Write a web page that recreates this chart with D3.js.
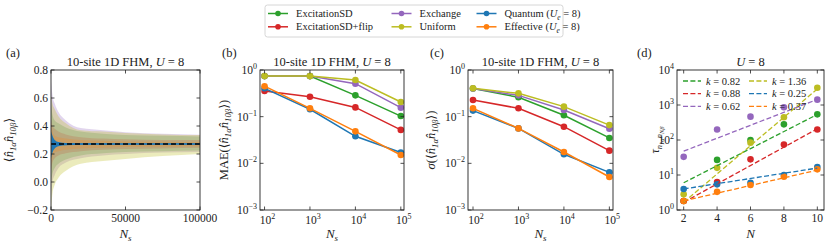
<!DOCTYPE html>
<html><head><meta charset="utf-8">
<script src="https://cdn.jsdelivr.net/npm/d3@7"></script>
<style>
body{margin:0;background:#fff;}
text{font-family:"Liberation Serif","DejaVu Serif",serif;fill:#222;}
</style></head>
<body><svg id="c" width="830" height="245"></svg>
<script>
// ---------- DATA ----------
const methods = ["ExcitationSD","ExcitationSD+flip","Exchange","Uniform","Quantum","Effective"];
const colors = ["#2ca02c","#d62728","#9467bd","#bcbd22","#1f77b4","#ff7f0e"];
// panel (a): band samples
const bandNs = [100, 1000, 2500, 5000, 10000, 20000, 35000, 50000, 75000, 100000];
const bandUpperSD    = [0.55,0.48,0.44,0.42,0.39,0.36,0.345,0.335,0.33,0.325];
const bandLowerSD    = [0.00,0.06,0.10,0.13,0.16,0.19,0.205,0.215,0.22,0.225];
const bandUpperFlip  = [0.45,0.40,0.38,0.36,0.34,0.32,0.31,0.305,0.30,0.30];
const bandLowerFlip  = [0.08,0.14,0.17,0.19,0.205,0.22,0.23,0.235,0.24,0.245];
const bandUpperExch  = [0.72,0.62,0.56,0.50,0.44,0.385,0.37,0.355,0.345,0.338];
const bandLowerExch  = [-0.10,0.00,0.05,0.10,0.14,0.17,0.19,0.20,0.21,0.215];
const bandUpperUnif  = [0.62,0.56,0.52,0.47,0.42,0.37,0.36,0.35,0.34,0.335];
const bandLowerUnif  = [-0.20,-0.08,-0.02,0.03,0.08,0.13,0.15,0.165,0.185,0.20];
const bandUpperQuant = [0.36,0.33,0.30,0.285,0.278,0.276,0.275,0.275,0.275,0.275];
const bandLowerQuant = [0.17,0.21,0.24,0.255,0.262,0.266,0.267,0.267,0.267,0.267];
const bandUpperEff   = [0.42,0.36,0.33,0.32,0.31,0.30,0.295,0.29,0.288,0.285];
const bandLowerEff   = [0.12,0.18,0.21,0.22,0.23,0.24,0.245,0.25,0.252,0.255];
const exactValue = 0.271;
// panel (b) and (c)
const Ns = [100, 1000, 10000, 100000];
const maeSD    = [0.74, 0.74, 0.286, 0.103];
const maeFlip  = [0.355, 0.268, 0.158, 0.052];
const maeExch  = [0.74, 0.74, 0.51, 0.156];
const maeUnif  = [0.74, 0.74, 0.61, 0.206];
const maeQuant = [0.405, 0.144, 0.038, 0.017];
const maeEff   = [0.45, 0.151, 0.0485, 0.0151];
const sigSD    = [0.40, 0.26, 0.107, 0.035];
const sigFlip  = [0.228, 0.151, 0.061, 0.0187];
const sigExch  = [0.40, 0.286, 0.139, 0.055];
const sigUnif  = [0.405, 0.316, 0.164, 0.066];
const sigQuant = [0.135, 0.056, 0.0156, 0.0064];
const sigEff   = [0.151, 0.056, 0.0175, 0.0051];
// panel (d)
const sitesN = [2, 4, 6, 8, 10];
const tauSD    = [1.8, 27, 100, 280, 540];
const tauFlip  = [1.8, 6.3, 28, 74, 200];
const tauExch  = [33, 200, 465, 860, 1420];
const tauUnif  = [2.8, 16, 84, 445, 3100];
const tauQuant = [4.0, 5.4, 6.0, 10, 17];
const tauEff   = [1.8, 3.3, 5.2, 8.9, 14.5];
const fitStart = [6.0, 1.66, 48, 1.66, 4.0, 1.82];   // fit value at N=2
const fitEnd   = [537, 209, 1445, 2884, 15.8, 13.8]; // fit value at N=10
const kLabels  = ["0.82","0.88","0.62","1.36","0.25","0.37"];
const aYTicks = [-0.2,0.0,0.2,0.4,0.6,0.8];
const aXTicks = [0,50000,100000];
const logXTicks = [2,3,4,5];
const logYTicksBC = [-3,-2,-1,0];
const dXTicks = [2,4,6,8,10];
const dYTicks = [0,1,2,3,4];

// ---------- DRAW ----------
const svg = d3.select("#c");
const TOP=70, BOT=210;
const tickLen=3.5;

function frame(g, x0, x1){
  g.append("rect").attr("x",x0).attr("y",TOP).attr("width",x1-x0).attr("height",BOT-TOP)
   .attr("fill","none").attr("stroke","#222").attr("stroke-width",0.9);
}
function xticks(g, xs, vals){
  vals.forEach(v=>{const x=xs(v);
    g.append("line").attr("x1",x).attr("x2",x).attr("y1",BOT).attr("y2",BOT-tickLen).attr("stroke","#222").attr("stroke-width",0.8);
    g.append("line").attr("x1",x).attr("x2",x).attr("y1",TOP).attr("y2",TOP+tickLen).attr("stroke","#222").attr("stroke-width",0.8);});
}
function yticks(g, ys, vals, x0, x1){
  vals.forEach(v=>{const y=ys(v);
    g.append("line").attr("x1",x0).attr("x2",x0+tickLen).attr("y1",y).attr("y2",y).attr("stroke","#222").attr("stroke-width",0.8);
    g.append("line").attr("x1",x1).attr("x2",x1-tickLen).attr("y1",y).attr("y2",y).attr("stroke","#222").attr("stroke-width",0.8);});
}
function powLabel(g, x, y, exp, anchor){
  const t=g.append("text").attr("x",x).attr("y",y).attr("text-anchor",anchor).attr("font-size",11.5);
  t.append("tspan").text("10");
  t.append("tspan").attr("dy",-5).attr("font-size",8).text(exp<0?("\u2212"+(-exp)):exp);
  return t;
}
function title(g, cx, pre){
  const t=g.append("text").attr("x",cx).attr("y",66).attr("text-anchor","middle").attr("font-size",12.5);
  if(pre) t.append("tspan").text(pre);
  t.append("tspan").attr("font-style","italic").text("U");
  t.append("tspan").text(" = 8");
}
function panelLabel(g,x,s){ g.append("text").attr("x",x).attr("y",57).attr("font-size",12.5).text(s); }
function xlabel(g,cx,sym,sub){
  const t=g.append("text").attr("x",cx).attr("y",238).attr("text-anchor","middle").attr("font-size",13).attr("font-style","italic");
  t.append("tspan").text(sym);
  if(sub) t.append("tspan").attr("dy",3).attr("font-size",9).text(sub);
}
function nn(t, fs){
  t.append("tspan").text("\u27E8");
  t.append("tspan").attr("font-style","italic").text("n\u0302");
  t.append("tspan").attr("dy",3).attr("font-size",fs*0.7).attr("font-style","italic").text("1\u03B1");
  t.append("tspan").attr("dy",-3).attr("font-style","italic").text("n\u0302");
  t.append("tspan").attr("dy",3).attr("font-size",fs*0.7).attr("font-style","italic").text("10\u03B2");
  t.append("tspan").attr("dy",-3).text("\u27E9");
}

// ----- Panel (a)
(function(){
  const g=svg.append("g");
  const x0=51,x1=200;
  const xs=d3.scaleLinear().domain([0,100000]).range([x0,x1]);
  const ys=d3.scaleLinear().domain([-0.2,0.8]).range([BOT,TOP]);
  const bands=[[bandUpperSD,bandLowerSD,0,0.28],[bandUpperFlip,bandLowerFlip,1,0.26],
    [bandUpperExch,bandLowerExch,2,0.28],[bandUpperUnif,bandLowerUnif,3,0.3],
    [bandUpperEff,bandLowerEff,5,0.22],[bandUpperQuant,bandLowerQuant,4,1.0]];
  const area=d3.area().x((d,i)=>xs(bandNs[i])).y0(d=>ys(d[1])).y1(d=>ys(d[0])).curve(d3.curveMonotoneX);
  g.append("clipPath").attr("id","clipA").append("rect").attr("x",x0).attr("y",TOP).attr("width",x1-x0).attr("height",BOT-TOP);
  const pg=g.append("g").attr("clip-path","url(#clipA)");
  bands.forEach(b=>{
    const d=bandNs.map((n,i)=>[b[0][i],b[1][i]]);
    pg.append("path").attr("d",area(d)).attr("fill",colors[b[2]]).attr("fill-opacity",b[3]);
  });
  pg.append("line").attr("x1",x0).attr("x2",x1).attr("y1",ys(exactValue)).attr("y2",ys(exactValue)).attr("stroke",colors[4]).attr("stroke-width",1.5);
  pg.append("line").attr("x1",x0).attr("x2",x1).attr("y1",ys(exactValue)).attr("y2",ys(exactValue)).attr("stroke","#000").attr("stroke-width",1.5).attr("stroke-dasharray","5,3");
  frame(g,x0,x1); xticks(g,xs,aXTicks); yticks(g,ys,aYTicks,x0,x1);
  aXTicks.forEach(v=>g.append("text").attr("x",xs(v)).attr("y",222).attr("text-anchor","middle").attr("font-size",11.5).text(v));
  aYTicks.forEach(v=>g.append("text").attr("x",x0-3).attr("y",ys(v)+4).attr("text-anchor","end").attr("font-size",11.5).text(d3.format(".1f")(v).replace("-","\u2212")));
  title(g,(x0+x1)/2,"10-site 1D FHM, ");
  panelLabel(g,6,"(a)");
  xlabel(g,(x0+x1)/2,"N","s");
  const t=g.append("text").attr("transform","translate(13,140) rotate(-90)").attr("text-anchor","middle").attr("font-size",12.5);
  nn(t,12.5);
})();

// ----- Panels (b), (c)
function logPanel(x0,x1,dom,series,lab,ylabPre,ylabX){
  const g=svg.append("g");
  const xs=d3.scaleLog().domain(dom).range([x0,x1]);
  const ys=d3.scaleLog().domain([1e-3,1]).range([BOT,TOP]);
  const line=d3.line().x((d,i)=>xs(Ns[i])).y(d=>ys(d));
  series.forEach((s,k)=>{
    g.append("path").attr("d",line(s)).attr("fill","none").attr("stroke",colors[k]).attr("stroke-width",1.5);
    g.selectAll(null).data(s).enter().append("circle").attr("cx",(d,i)=>xs(Ns[i])).attr("cy",d=>ys(d)).attr("r",3.3).attr("fill",colors[k]);
  });
  frame(g,x0,x1);
  xticks(g,xs,logXTicks.map(e=>Math.pow(10,e)));
  yticks(g,ys,logYTicksBC.map(e=>Math.pow(10,e)),x0,x1);
  logXTicks.forEach(e=>powLabel(g,xs(Math.pow(10,e))+3,224,e,"middle"));
  logYTicksBC.forEach(e=>powLabel(g,x0-3,ys(Math.pow(10,e))+4,e,"end"));
  title(g,(x0+x1)/2,"10-site 1D FHM, ");
  panelLabel(g,lab[1],lab[0]);
  xlabel(g,(x0+x1)/2,"N","s");
  const t=g.append("text").attr("transform",`translate(${ylabX},140) rotate(-90)`).attr("text-anchor","middle").attr("font-size",12.5);
  if(ylabPre==="\u03C3") t.append("tspan").attr("font-style","italic").text("\u03C3");
  else t.append("tspan").text(ylabPre);
  t.append("tspan").text("(");
  nn(t,12.5);
  t.append("tspan").text(")");
}
logPanel(260,404,[Math.pow(10,1.9),Math.pow(10,5.07)],[maeSD,maeFlip,maeExch,maeUnif,maeQuant,maeEff],["(b)",222],"MAE",228);
logPanel(468,613,[Math.pow(10,1.89),Math.pow(10,5.08)],[sigSD,sigFlip,sigExch,sigUnif,sigQuant,sigEff],["(c)",430],"\u03C3",435);

// ----- Panel (d)
(function(){
  const g=svg.append("g");
  const x0=677,x1=824;
  const xs=d3.scaleLinear().domain([1.6,10.4]).range([x0,x1]);
  const ys=d3.scaleLog().domain([1,1e4]).range([BOT,TOP]);
  const taus=[tauSD,tauFlip,tauExch,tauUnif,tauQuant,tauEff];
  taus.forEach((s,k)=>{
    g.selectAll(null).data(s).enter().append("circle").attr("cx",(d,i)=>xs(sitesN[i])).attr("cy",d=>ys(d)).attr("r",3.3).attr("fill",colors[k]);
  });
  taus.forEach((s,k)=>{
    g.append("line").attr("x1",xs(2)).attr("x2",xs(10)).attr("y1",ys(fitStart[k])).attr("y2",ys(fitEnd[k]))
     .attr("stroke",colors[k]).attr("stroke-width",1.3).attr("stroke-dasharray","5,2.4");
  });
  frame(g,x0,x1); xticks(g,xs,dXTicks); yticks(g,ys,dYTicks.map(e=>Math.pow(10,e)),x0,x1);
  dXTicks.forEach(v=>g.append("text").attr("x",xs(v)).attr("y",222).attr("text-anchor","middle").attr("font-size",11.5).text(v));
  dYTicks.forEach(e=>powLabel(g,x0-3,ys(Math.pow(10,e))+4,e,"end"));
  title(g,(x0+x1)/2,"");
  panelLabel(g,637,"(d)");
  xlabel(g,(x0+x1)/2,"N","");
  const t=g.append("text").attr("transform","translate(659,140) rotate(-90)").attr("text-anchor","middle").attr("font-size",12.5);
  t.append("tspan").attr("font-style","italic").text("\u03C4");
  t.append("tspan").attr("dy",3).attr("font-size",8.5).attr("font-style","italic").text("n");
  t.append("tspan").attr("dy",1.5).attr("font-size",6.5).attr("font-style","italic").text("1\u03B1");
  t.append("tspan").attr("dy",-1.5).attr("font-size",8.5).attr("font-style","italic").text("n");
  t.append("tspan").attr("dy",1.5).attr("font-size",6.5).attr("font-style","italic").text("N\u03B2");
  // legend
  const order=[0,1,2,3,4,5];
  order.forEach((k,i)=>{
    const col=i<3?0:1,row=i%3;
    const lx=col===0?683:749, ly=81+row*12.7;
    g.append("line").attr("x1",lx).attr("x2",lx+18).attr("y1",ly).attr("y2",ly).attr("stroke",colors[k]).attr("stroke-width",1.3).attr("stroke-dasharray","5,2.4");
    const tt=g.append("text").attr("x",lx+23).attr("y",ly+3.5).attr("font-size",10.5);
    tt.append("tspan").attr("font-style","italic").text("k");
    tt.append("tspan").text(" = "+kLabels[k]);
  });
})();

// ----- Top legend
(function(){
  const g=svg.append("g");
  g.append("rect").attr("x",265).attr("y",5).attr("width",298).attr("height",32).attr("rx",2.5)
    .attr("fill","#fff").attr("stroke","#ccc").attr("stroke-width",0.8);
  const cols=[268,391.5,476.5];
  methods.forEach((m,k)=>{
    const col=Math.floor(k/2),row=k%2;
    const lx=cols[col], ly=13.5+row*13.3;
    g.append("line").attr("x1",lx).attr("x2",lx+20).attr("y1",ly).attr("y2",ly).attr("stroke",colors[k]).attr("stroke-width",1.5);
    g.append("circle").attr("cx",lx+10).attr("cy",ly).attr("r",2.8).attr("fill",colors[k]);
    const t=g.append("text").attr("x",lx+28).attr("y",ly+3.5).attr("font-size",10.5);
    if(k>=4){
      t.append("tspan").text(k===4?"Quantum (":"Effective (");
      t.append("tspan").attr("font-style","italic").text("U");
      t.append("tspan").attr("dy",2.5).attr("font-size",7.5).attr("font-style","italic").text("e");
      t.append("tspan").attr("dy",-2.5).text(" = 8)");
    } else t.text(m);
  });
})();
</script></body></html>
